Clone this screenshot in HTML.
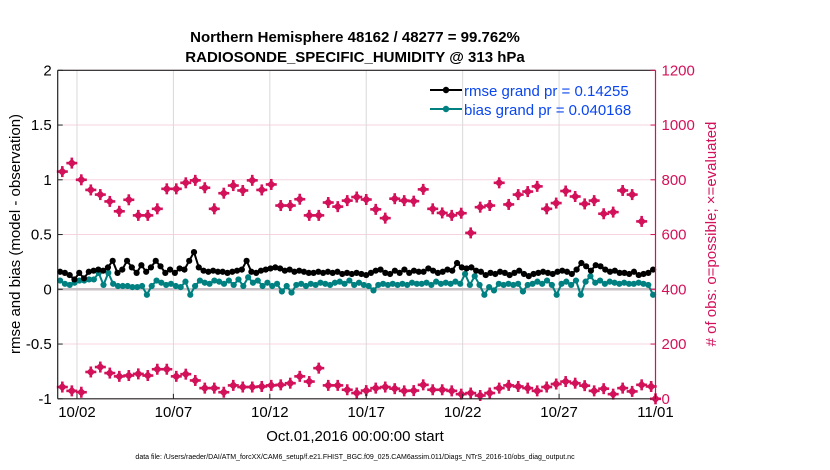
<!DOCTYPE html>
<html><head><meta charset="utf-8"><style>
body{margin:0;background:#fff;}
svg{display:block;font-family:"Liberation Sans",Arial,sans-serif;}
</style></head><body>
<svg id="chart" width="830" height="470" xmlns="http://www.w3.org/2000/svg">
<text x="355" y="42" text-anchor="middle" font-size="15" font-weight="bold">Northern Hemisphere 48162 / 48277 = 99.762%</text>
<text x="355" y="62" text-anchor="middle" font-size="15" font-weight="bold">RADIOSONDE_SPECIFIC_HUMIDITY @ 313 hPa</text>
<g id="grid"></g>
<g id="marks"></g>
<g id="axes"></g>
<text x="355" y="441" text-anchor="middle" font-size="15">Oct.01,2016 00:00:00 start</text>
<text x="355" y="459" text-anchor="middle" font-size="7">data file: /Users/raeder/DAI/ATM_forcXX/CAM6_setup/f.e21.FHIST_BGC.f09_025.CAM6assim.011/Diags_NTrS_2016-10/obs_diag_output.nc</text>
<text transform="translate(20,234) rotate(-90)" text-anchor="middle" font-size="15">rmse and bias (model - observation)</text>
<text transform="translate(716,234) rotate(-90)" text-anchor="middle" font-size="15" fill="#d3115a"># of obs: o=possible; ×=evaluated</text>
<g id="legend">
<line x1="430" y1="90" x2="462" y2="90" stroke="#000" stroke-width="2"/>
<circle cx="446" cy="90" r="3.2" fill="#000"/>
<text x="464" y="96" font-size="15" fill="#0a46f0">rmse grand pr = 0.14255</text>
<line x1="430" y1="109" x2="462" y2="109" stroke="#008080" stroke-width="2"/>
<circle cx="446" cy="109" r="3.2" fill="#008080"/>
<text x="464" y="115" font-size="15" fill="#0a46f0">bias grand pr = 0.040168</text>
</g>
</svg>
<script>
const leftTicks=[-1,-0.5,0,0.5,1,1.5,2];
const leftTickLabels=["-1","-0.5","0","0.5","1","1.5","2"];
const rightTicks=[0,200,400,600,800,1000,1200];
const dateTickDays=[1,6,11,16,21,26,31];
const dateTickLabels=["10/02","10/07","10/12","10/17","10/22","10/27","11/01"];
const obsTop=[830,861,800,763,746,721,685,727,670,670,694,767,767,789,798,771,694,751,779,761,798,763,783,706,706,729,670,670,717,702,724,737,728,692,660,731,724,722,765,694,679,670,678,606,700,706,789,710,746,757,776,694,715,759,739,712,724,676,682,761,746,648];
const obsBottom=[43,29,24,98,116,94,82,85,91,85,108,108,82,90,67,39,39,24,49,43,43,45,49,51,57,82,63,112,49,49,33,21,30,39,43,37,29,30,51,33,33,29,17,21,12,21,39,49,45,39,29,43,54,63,57,48,29,37,17,39,27,51,45,0];
const rmse=[0.16,0.15,0.13,0.09,0.15,0.10,0.16,0.17,0.18,0.17,0.20,0.26,0.15,0.18,0.26,0.20,0.15,0.22,0.16,0.20,0.26,0.21,0.15,0.18,0.15,0.19,0.18,0.26,0.34,0.20,0.17,0.16,
0.17,0.16,0.16,0.15,0.16,0.17,0.18,0.26,0.16,0.15,0.17,0.18,0.19,0.20,0.19,0.17,0.18,0.16,0.17,0.16,0.15,0.15,0.16,0.15,0.16,0.15,0.16,0.14,0.15,0.14,0.15,
0.14,0.13,0.15,0.17,0.18,0.15,0.14,0.17,0.15,0.18,0.15,0.17,0.16,0.16,0.19,0.17,0.15,0.16,0.18,0.17,0.24,0.20,0.19,0.20,0.17,0.16,0.13,0.15,0.14,0.16,0.15,
0.13,0.15,0.17,0.14,0.12,0.14,0.15,0.16,0.15,0.14,0.16,0.17,0.16,0.14,0.18,0.24,0.21,0.17,0.22,0.21,0.18,0.16,0.17,0.15,0.15,0.14,0.16,0.13,0.14,0.15,0.18];
const bias=[0.08,0.05,0.04,0.06,0.08,0.08,0.09,0.09,0.15,0.04,0.15,0.05,0.03,0.03,0.03,0.02,0.02,0.03,-0.05,0.03,0.08,0.06,0.04,0.05,0.03,0.02,0.07,-0.05,0.03,0.08,0.06,0.05,
0.08,0.07,0.05,0.08,0.04,0.09,0.03,0.11,0.06,0.08,0.03,0.06,0.03,0.05,-0.02,0.03,-0.03,0.04,0.05,0.03,0.05,0.04,0.06,0.05,0.04,0.06,0.07,0.05,0.08,0.04,0.06,
0.04,0.03,-0.01,0.04,0.05,0.04,0.05,0.04,0.05,0.04,0.06,0.05,0.05,0.06,0.04,0.07,0.05,0.06,0.05,0.07,0.05,0.14,0.04,0.12,0.04,-0.05,0.02,-0.01,0.05,0.04,0.05,
0.04,0.05,-0.02,0.04,0.05,0.07,0.05,0.08,0.04,-0.05,0.05,0.07,0.04,0.08,-0.05,0.07,0.12,0.06,0.08,0.05,0.07,0.06,0.05,0.06,0.05,0.05,0.06,0.05,0.04,-0.05];

const X0=57.7,X1=655.5,Y0=398.8,Y1=70.3;
const xDay=d=>X0+(d/31)*(X1-X0);
const yL=v=>Y0-(v+1)/3*(Y0-Y1);
const yR=v=>Y0-v/1200*(Y0-Y1);
const NS="http://www.w3.org/2000/svg";
function mk(tag,attrs,parent){const e=document.createElementNS(NS,tag);for(const k in attrs)e.setAttribute(k,attrs[k]);parent.appendChild(e);return e;}
const grid=document.getElementById('grid'),marks=document.getElementById('marks'),axes=document.getElementById('axes');
const PINK="#d3115a";

leftTicks.forEach(v=>{const l=mk('line',{x1:X0,x2:X1,y1:yL(v),y2:yL(v),stroke:'#f6d3de','stroke-width':1},grid);

});
dateTickDays.forEach(d=>{const l=mk('line',{x1:xDay(d),x2:xDay(d),y1:Y1,y2:Y0,stroke:'#d9d9d9','stroke-width':1},grid);

});
const zl=mk('line',{x1:X0,x2:X1,y1:yL(0),y2:yL(0),stroke:'#c8c0c4','stroke-width':2.5},grid);



function obsMarker(x,y,name){const g=mk('g',{},marks);


mk('polygon',{points:`${x},${y-4.5} ${x+4.5},${y} ${x},${y+4.5} ${x-4.5},${y}`,fill:PINK},g);
mk('rect',{x:x-1.3,y:y-5.5,width:2.6,height:11,fill:PINK},g);
mk('rect',{x:x-5.5,y:y-1.3,width:11,height:2.6,fill:PINK},g);}
obsTop.forEach((v,i)=>obsMarker(xDay(0.24+i*0.4925),yR(v),'evaluated-obs-marker'));
obsBottom.forEach((v,i)=>{const d=i<obsBottom.length-1?0.24+i*0.4925:31;obsMarker(xDay(d),yR(v),'possible-obs-marker');});

function series(vals,color,name){const n=vals.length;const step=31/n;
const pts=vals.map((v,i)=>[xDay((i+0.5)*step),yL(v)]);
const p=mk('polyline',{points:pts.map(q=>q.join(',')).join(' '),fill:'none',stroke:color,'stroke-width':2},marks);


pts.forEach(q=>{const c=mk('circle',{cx:q[0],cy:q[1],r:3.1,fill:color},marks);

});}
series(bias,'#008080','bias');
series(rmse,'#000','rmse');

const ax=mk('line',{x1:X0,x2:X0,y1:Y1,y2:Y0,stroke:'#222','stroke-width':1.2},axes);


const ar=mk('line',{x1:X1,x2:X1,y1:Y1,y2:Y0,stroke:PINK,'stroke-width':1.2},axes);


const atop=mk('line',{x1:X0,x2:X1,y1:Y1,y2:Y1,stroke:'#222','stroke-width':1.2},axes);


const ab=mk('line',{x1:X0,x2:X1,y1:Y0,y2:Y0,stroke:'#222','stroke-width':1.2},axes);


leftTicks.forEach((v,i)=>{mk('line',{x1:X0,x2:X0+5,y1:yL(v),y2:yL(v),stroke:'#222'},axes);
const t=mk('text',{x:X0-6,y:yL(v)+5,'text-anchor':'end','font-size':15},axes);t.textContent=leftTickLabels[i];

});
rightTicks.forEach(v=>{mk('line',{x1:X1-5,x2:X1,y1:yR(v),y2:yR(v),stroke:PINK},axes);
const t=mk('text',{x:X1+6,y:yR(v)+5,'font-size':15,fill:PINK},axes);t.textContent=String(v);

});
dateTickDays.forEach((d,i)=>{mk('line',{x1:xDay(d),x2:xDay(d),y1:Y0-5,y2:Y0,stroke:'#222'},axes);
const t=mk('text',{x:xDay(d),y:Y0+18,'text-anchor':'middle','font-size':15},axes);t.textContent=dateTickLabels[i];

});
</script>
</body></html>
